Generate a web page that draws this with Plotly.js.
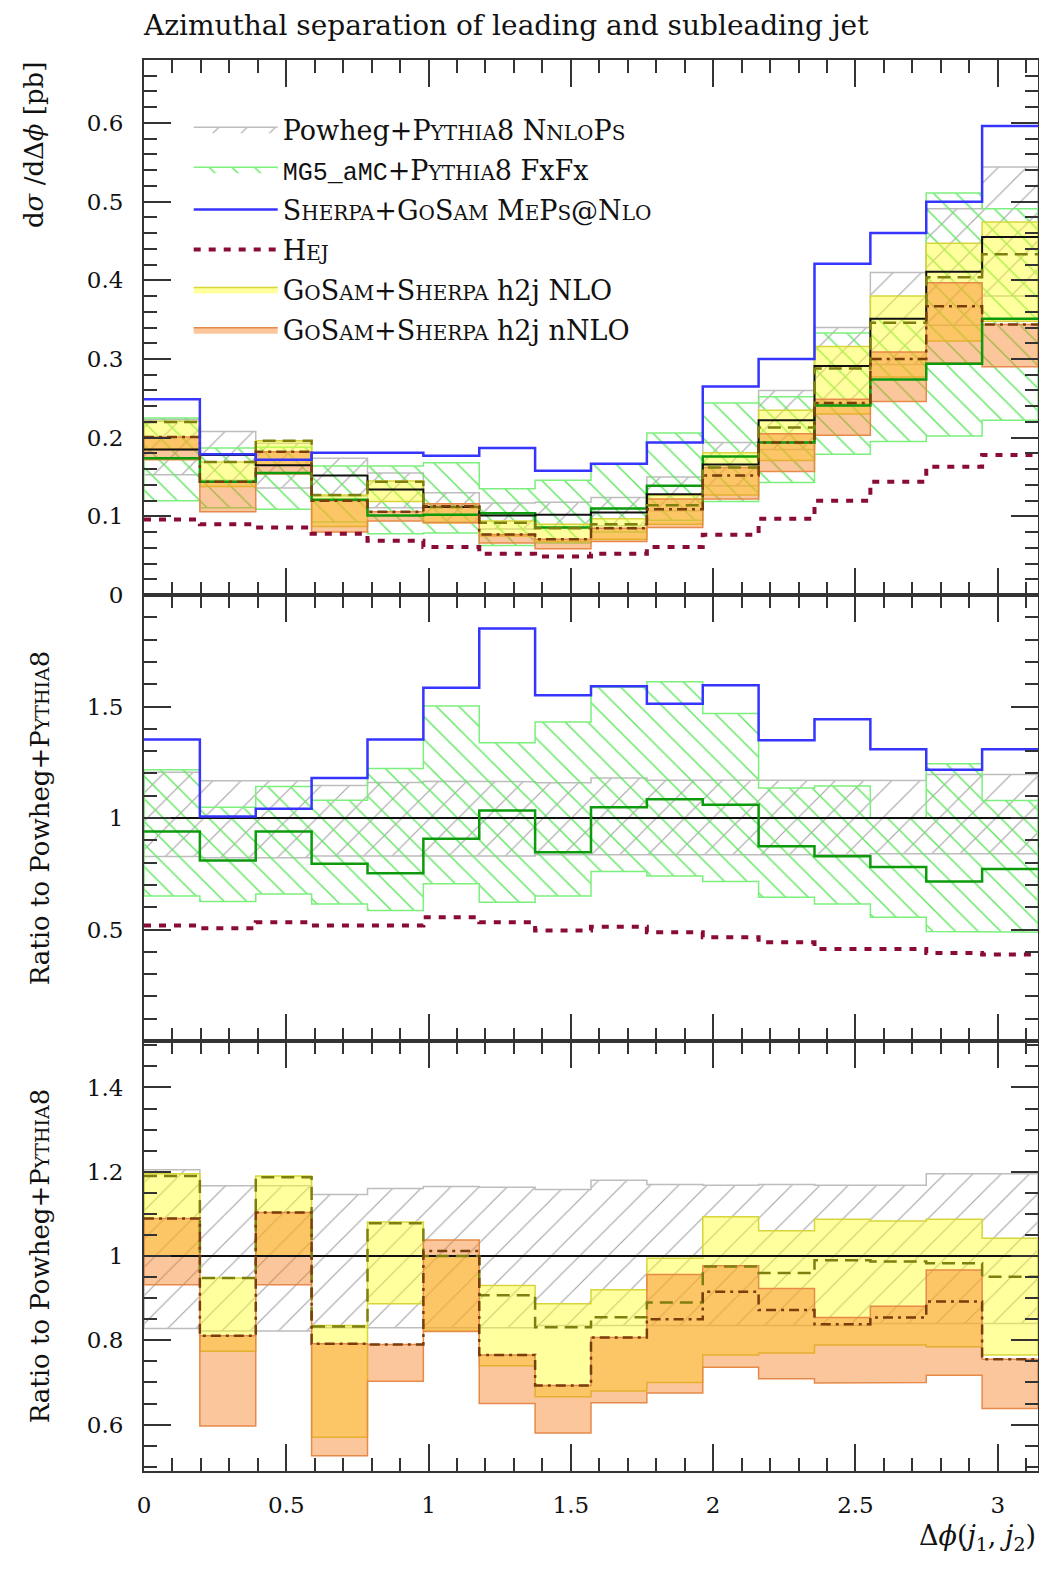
<!DOCTYPE html>
<html>
<head>
<meta charset="utf-8">
<script src="https://cdn.plot.ly/plotly-3.0.1.min.js"></script>
<style>html,body{margin:0;padding:0;background:#fff;}#chart{width:1039px;height:1576px;}</style>
</head>
<body>
<div id="chart"></div>
<script>
// ---------- data ----------
const binEdges = [0, 0.1963, 0.3927, 0.5890, 0.7854, 0.9817, 1.1781, 1.3744, 1.5708,
                  1.7671, 1.9635, 2.1598, 2.3562, 2.5525, 2.7489, 2.9452, 3.1416];

// top panel: dsigma/dDeltaphi [pb]
const powhegCentral = [0.185,0.178,0.165,0.152,0.134,0.112,0.101,0.102,0.105,0.128,0.166,0.222,0.291,0.351,0.411,0.455];
const powhegUp      = [0.223,0.208,0.193,0.174,0.155,0.130,0.117,0.118,0.124,0.150,0.194,0.260,0.340,0.410,0.491,0.544];
const powhegDown    = [0.153,0.146,0.136,0.126,0.111,0.093,0.084,0.085,0.088,0.107,0.139,0.185,0.243,0.293,0.343,0.380];
const mg5Central    = [0.174,0.144,0.155,0.121,0.101,0.102,0.104,0.086,0.110,0.139,0.176,0.194,0.241,0.274,0.294,0.351];
const mg5Up         = [0.225,0.187,0.188,0.164,0.164,0.168,0.135,0.146,0.167,0.206,0.244,0.252,0.333,0.351,0.511,0.491];
const mg5Down       = [0.120,0.111,0.109,0.093,0.078,0.079,0.063,0.066,0.080,0.095,0.119,0.143,0.179,0.195,0.202,0.222];
const sherpa        = [0.249,0.179,0.172,0.181,0.181,0.177,0.187,0.158,0.167,0.194,0.265,0.300,0.421,0.460,0.500,0.596];
const hej           = [0.096,0.090,0.086,0.078,0.069,0.061,0.0525,0.049,0.0525,0.061,0.0766,0.097,0.120,0.144,0.163,0.178];
const nloCentral    = [0.220,0.169,0.196,0.127,0.144,0.112,0.092,0.085,0.090,0.114,0.162,0.213,0.288,0.346,0.404,0.433];
const nloUp         = [0.221,0.169,0.196,0.127,0.145,0.112,0.094,0.090,0.097,0.127,0.181,0.235,0.316,0.380,0.447,0.474];
const nloDown       = [0.185,0.138,0.165,0.087,0.119,0.092,0.075,0.068,0.071,0.090,0.127,0.171,0.230,0.277,0.323,0.348];
const nnloCentral   = [0.201,0.144,0.182,0.120,0.106,0.113,0.077,0.071,0.085,0.109,0.152,0.194,0.244,0.300,0.367,0.344];
const nnloUp        = [0.201,0.144,0.182,0.120,0.106,0.116,0.077,0.071,0.085,0.122,0.162,0.205,0.249,0.309,0.397,0.344];
const nnloDown      = [0.172,0.106,0.154,0.080,0.094,0.092,0.066,0.059,0.068,0.086,0.122,0.157,0.203,0.246,0.295,0.290];

// ratios to Powheg+Pythia8
const powhegRel     = [1,1,1,1,1,1,1,1,1,1,1,1,1,1,1,1];
const powhegRelUp   = [1.205,1.167,1.167,1.146,1.160,1.165,1.163,1.158,1.180,1.170,1.168,1.170,1.168,1.168,1.195,1.195];
const powhegRelDown = [0.828,0.822,0.822,0.830,0.830,0.830,0.830,0.835,0.835,0.835,0.835,0.835,0.835,0.840,0.840,0.840];
const mg5Rel        = [0.940,0.810,0.940,0.795,0.753,0.907,1.034,0.847,1.049,1.084,1.060,0.874,0.829,0.780,0.716,0.772];
const mg5RelUp      = [1.217,1.049,1.142,1.080,1.222,1.503,1.338,1.431,1.588,1.611,1.469,1.135,1.144,1.000,1.244,1.079];
const mg5RelDown    = [0.650,0.626,0.660,0.615,0.585,0.705,0.623,0.650,0.760,0.740,0.716,0.645,0.615,0.555,0.491,0.488];
const sherpaRel     = [1.352,1.007,1.042,1.180,1.352,1.584,1.850,1.551,1.591,1.513,1.596,1.349,1.443,1.308,1.217,1.308];
const hejRel        = [0.518,0.506,0.533,0.518,0.518,0.555,0.533,0.496,0.513,0.488,0.466,0.443,0.413,0.413,0.395,0.388];
const nloRel        = [1.190,0.948,1.187,0.833,1.078,1.000,0.907,0.831,0.855,0.890,0.975,0.960,0.990,0.987,0.983,0.951];
const nloRelUp      = [1.195,0.948,1.190,0.835,1.081,1.000,0.930,0.887,0.920,0.995,1.093,1.060,1.087,1.083,1.087,1.042];
const nloRelDown    = [1.000,0.774,1.000,0.570,0.887,0.822,0.740,0.666,0.680,0.700,0.765,0.770,0.789,0.789,0.785,0.765];
const nnloRel       = [1.089,0.811,1.103,0.792,0.790,1.012,0.765,0.693,0.807,0.850,0.915,0.872,0.838,0.854,0.892,0.755];
const nnloRelUp     = [1.089,0.811,1.103,0.792,0.790,1.038,0.765,0.693,0.807,0.956,0.977,0.923,0.854,0.881,0.967,0.755];
const nnloRelDown   = [0.932,0.597,0.932,0.526,0.703,0.821,0.650,0.580,0.652,0.675,0.736,0.709,0.699,0.700,0.717,0.638];

const xTickVals = [0, 0.5, 1, 1.5, 2, 2.5, 3];
const y1TickVals = [0, 0.1, 0.2, 0.3, 0.4, 0.5, 0.6];
const y2TickVals = [0.5, 1, 1.5];
const y3TickVals = [0.6, 0.8, 1, 1.2, 1.4];

// ---------- labels ----------
const FONT = 'DejaVu Serif, Liberation Serif, serif';
function sc(s, px){ return '<span style="font-size:' + (px || 19) + 'px">' + s + '</span>'; }
const PY = 'P' + sc('YTHIA') + '8';
const PYL = 'P' + sc('YTHIA', 20) + '8';
const labels = {
  powheg: 'Powheg+' + PYL + ' N' + sc('NLO', 20) + 'P' + sc('S', 20),
  mg5: '<span style="font-family:Liberation Mono;font-size:25px">MG5_aMC</span>+' + PYL + ' FxFx',
  sherpa: 'S' + sc('HERPA', 20) + '+G' + sc('O', 20) + 'S' + sc('AM', 20) + ' M' + sc('E', 20) + 'P' + sc('S', 20) + '@N' + sc('LO', 20),
  hej: 'H' + sc('EJ', 20),
  nlo: 'G' + sc('O', 20) + 'S' + sc('AM', 20) + '+S' + sc('HERPA', 20) + ' h2j NLO',
  nnlo: 'G' + sc('O', 20) + 'S' + sc('AM', 20) + '+S' + sc('HERPA', 20) + ' h2j nNLO'
};

// ---------- styles ----------
const C = {
  powhegHatch: '#a6a6a6', powhegEdge: '#bdbdbd',
  mgHatch: '#62e862', mgEdge: '#7cf07c', mgLine: '#0d9a0d',
  sherpa: '#3535ff', hej: '#8a0b35',
  nloFill: 'rgba(255,255,40,0.45)', nloEdge: '#d6d63a', nloLine: '#7f7f10',
  nnloFill: 'rgba(249,128,36,0.45)', nnloEdge: '#e58a48', nnloLine: '#7a3d0c'
};

function stepLine(vals, xa, ya, line, extra) {
  const t = {
    type: 'scatter', mode: 'lines', x: binEdges.slice(),
    y: vals.concat([vals[vals.length - 1]]),
    line: Object.assign({shape: 'hv'}, line),
    xaxis: xa, yaxis: ya, hoverinfo: 'skip', showlegend: false
  };
  return Object.assign(t, extra || {});
}
function band(lo, hi, xa, ya, style, extra) {
  const xs = [], ys = [];
  for (let i = 0; i < hi.length; i++) { xs.push(binEdges[i], binEdges[i + 1]); ys.push(hi[i], hi[i]); }
  for (let i = lo.length - 1; i >= 0; i--) { xs.push(binEdges[i + 1], binEdges[i]); ys.push(lo[i], lo[i]); }
  xs.push(binEdges[0]); ys.push(hi[0]);
  const t = {
    type: 'scatter', mode: 'lines', x: xs, y: ys, fill: 'toself',
    xaxis: xa, yaxis: ya, hoverinfo: 'skip', showlegend: false
  };
  return Object.assign(t, style, extra || {});
}
const powhegBandStyle = {
  line: {color: C.powhegEdge, width: 1.5},
  fillcolor: 'rgba(0,0,0,0)',
  fillpattern: {shape: '/', fgcolor: C.powhegHatch, bgcolor: 'rgba(0,0,0,0)', size: 20, solidity: 0.06}
};
const mgBandStyle = {
  line: {color: C.mgEdge, width: 1.5},
  fillcolor: 'rgba(0,0,0,0)',
  fillpattern: {shape: '\\', fgcolor: C.mgHatch, bgcolor: 'rgba(0,0,0,0)', size: 16, solidity: 0.09}
};
const nloBandStyle = {line: {color: C.nloEdge, width: 1.5}, fillcolor: C.nloFill};
const nnloBandStyle = {line: {color: C.nnloEdge, width: 1.5}, fillcolor: C.nnloFill};

const blackLine = {color: '#111', width: 2};
const mgLine = {color: C.mgLine, width: 2.5};
const sherpaLine = {color: C.sherpa, width: 2.5};
const hejLine = {color: C.hej, width: 4, dash: '7px,8px'};
const nloLine = {color: C.nloLine, width: 2.5, dash: '13px,7px'};
const nnloLine = {color: C.nnloLine, width: 2.5, dash: '10px,5px,3px,5px'};

function leg(name, rank) { return {showlegend: true, name: name, legendrank: rank, legendgroup: 'g' + rank}; }

const traces = [
  // top panel
  band(powhegDown, powhegUp, 'x', 'y', powhegBandStyle, leg(labels.powheg, 1)),
  band(mg5Down, mg5Up, 'x', 'y', mgBandStyle, leg(labels.mg5, 2)),
  band(nloDown, nloUp, 'x', 'y', nloBandStyle, leg(labels.nlo, 5)),
  band(nnloDown, nnloUp, 'x', 'y', nnloBandStyle, leg(labels.nnlo, 6)),
  stepLine(hej, 'x', 'y', hejLine, leg(labels.hej, 4)),
  stepLine(mg5Central, 'x', 'y', mgLine),
  stepLine(powhegCentral, 'x', 'y', blackLine),
  stepLine(nloCentral, 'x', 'y', nloLine),
  stepLine(nnloCentral, 'x', 'y', nnloLine),
  stepLine(sherpa, 'x', 'y', sherpaLine, leg(labels.sherpa, 3)),
  // middle panel
  band(powhegRelDown, powhegRelUp, 'x2', 'y2', powhegBandStyle),
  band(mg5RelDown, mg5RelUp, 'x2', 'y2', mgBandStyle),
  stepLine(hejRel, 'x2', 'y2', hejLine),
  stepLine(powhegRel, 'x2', 'y2', blackLine),
  stepLine(mg5Rel, 'x2', 'y2', mgLine),
  stepLine(sherpaRel, 'x2', 'y2', sherpaLine),
  // bottom panel
  band(powhegRelDown, powhegRelUp, 'x3', 'y3', powhegBandStyle),
  band(nloRelDown, nloRelUp, 'x3', 'y3', nloBandStyle),
  band(nnloRelDown, nnloRelUp, 'x3', 'y3', nnloBandStyle),
  stepLine(powhegRel, 'x3', 'y3', blackLine),
  stepLine(nloRel, 'x3', 'y3', nloLine),
  stepLine(nnloRel, 'x3', 'y3', nnloLine)
];

const axCommon = {
  showline: true, linecolor: '#333', linewidth: 2, mirror: 'allticks',
  ticks: 'inside', ticklen: 27, tickwidth: 2, tickcolor: '#333',
  showgrid: false, zeroline: false, fixedrange: true,
  tickfont: {family: FONT, size: 23, color: '#111'}
};
function xax(anchor, showLabels) {
  return Object.assign({}, axCommon, {
    domain: [0, 1], range: [0, Math.PI], anchor: anchor,
    tickmode: 'array', tickvals: xTickVals, showticklabels: showLabels,
    ticklabelstandoff: 12,
    minor: {ticks: 'inside', ticklen: 13, tickwidth: 2, tickcolor: '#333', tick0: 0, dtick: 0.1}
  });
}
function yax(anchor, domain, range, tv, minorStep) {
  return Object.assign({}, axCommon, {
    domain: domain, range: range, anchor: anchor,
    tickmode: 'array', tickvals: tv, ticktext: tv.map(String), ticklabelstandoff: 14,
    minor: {ticks: 'inside', ticklen: 13, tickwidth: 2, tickcolor: '#333', tick0: 0, dtick: minorStep}
  });
}

const layout = {
  width: 1039, height: 1576,
  margin: {l: 144, r: 1, t: 60, b: 105},
  paper_bgcolor: '#fff', plot_bgcolor: '#fff',
  font: {family: FONT, size: 24, color: '#111'},
  title: {
    text: 'Azimuthal separation of leading and subleading jet',
    xref: 'paper', x: 0, xanchor: 'left',
    yref: 'container', y: 0.984, yanchor: 'middle',
    font: {family: FONT, size: 28, color: '#111'}
  },
  showlegend: true,
  legend: {
    x: 0.05, y: 0.968, xanchor: 'left', yanchor: 'top',
    bgcolor: 'rgba(0,0,0,0)', borderwidth: 0,
    font: {family: FONT, size: 27, color: '#111'},
    itemwidth: 84, traceorder: 'grouped', tracegroupgap: 2
  },
  xaxis: xax('y', false),
  xaxis2: xax('y2', false),
  xaxis3: xax('y3', true),
  yaxis: yax('x', [0.6208, 1], [0, 0.68], y1TickVals, 0.02),
  yaxis2: yax('x2', [0.3047, 0.6208], [0, 2], y2TickVals, 0.1),
  yaxis3: yax('x3', [0, 0.3047], [0.49, 1.51], y3TickVals, 0.05),
  annotations: [
    {text: 'd<i>σ</i> /dΔ<i>ϕ</i> [pb]', xref: 'paper', x: -0.123, xanchor: 'center',
     yref: 'y domain', y: 1, yanchor: 'top', textangle: -90, showarrow: false,
     font: {family: FONT, size: 26, color: '#111'}},
    {text: 'Ratio to Powheg+' + PY, xref: 'paper', x: -0.116, xanchor: 'center',
     yref: 'y2 domain', y: 0.5, yanchor: 'middle', textangle: -90, showarrow: false,
     font: {family: FONT, size: 26, color: '#111'}},
    {text: 'Ratio to Powheg+' + PY, xref: 'paper', x: -0.116, xanchor: 'center',
     yref: 'y3 domain', y: 0.5, yanchor: 'middle', textangle: -90, showarrow: false,
     font: {family: FONT, size: 26, color: '#111'}},
    {text: 'Δ<i>ϕ</i>(<i>j</i><sub>1</sub>, <i>j</i><sub>2</sub>)', xref: 'paper', x: 1, xanchor: 'right',
     yref: 'paper', y: -0.033, yanchor: 'top', showarrow: false,
     font: {family: FONT, size: 27, color: '#111'}}
  ]
};

Plotly.newPlot('chart', traces, layout, {staticPlot: true, displayModeBar: false});
</script>
</body>
</html>
